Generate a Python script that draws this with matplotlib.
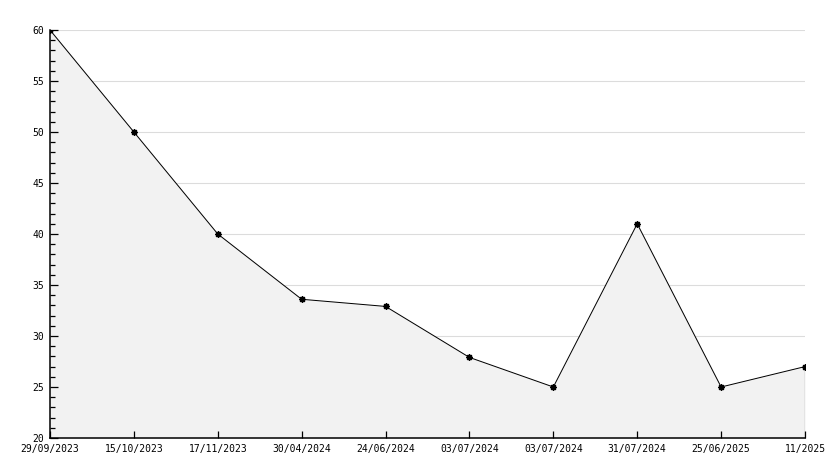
import numpy as np
import matplotlib.pyplot as plt
from matplotlib.ticker import MultipleLocator

dates = ['29/09/2023', '15/10/2023', '17/11/2023', '30/04/2024', '24/06/2024',
         '03/07/2024', '03/07/2024', '31/07/2024', '25/06/2025', '11/2025']
values = [60, 50, 40, 33.6, 32.9, 27.9, 25, 41, 25, 27]

plt.rcParams['font.family'] = 'DejaVu Sans Mono'

fig = plt.figure(figsize=(8.34, 4.68), dpi=100)
ax = fig.add_axes([50 / 834, 30 / 468, 755 / 834, 408 / 468])

x = np.arange(len(values))
# grid lines behind the filled area
ax.hlines(np.arange(25, 61, 5), 0, len(values) - 1, color='#dcdcdc', linewidth=0.8, zorder=0)
ax.fill_between(x, values, 20, color='#f2f2f2', linewidth=0, zorder=1)
ax.vlines(x[-1], 20, values[-1], color='black', linewidth=0.8, zorder=2)
ax.plot(x, values, color='black', linewidth=0.72, marker=(8, 1, 0), markersize=4.5, zorder=3)

ax.set_xlim(0, len(values) - 1)
ax.set_ylim(20, 60)
ax.set_xticks(x)
ax.set_xticklabels(dates, fontsize=7)
ax.yaxis.set_major_locator(MultipleLocator(5))
ax.yaxis.set_minor_locator(MultipleLocator(1))
ax.tick_params(axis='y', which='major', direction='in', length=5.5, width=0.9, labelsize=7, pad=4)
ax.tick_params(axis='y', which='minor', direction='in', length=3.5, width=0.9)
ax.tick_params(axis='x', which='major', direction='in', length=5, width=0.9, pad=4)

for s in ['top', 'right']:
    ax.spines[s].set_visible(False)
for s in ['left', 'bottom']:
    ax.spines[s].set_linewidth(1.1)
    ax.spines[s].set_zorder(4)

plt.savefig('out.png', dpi=100)
